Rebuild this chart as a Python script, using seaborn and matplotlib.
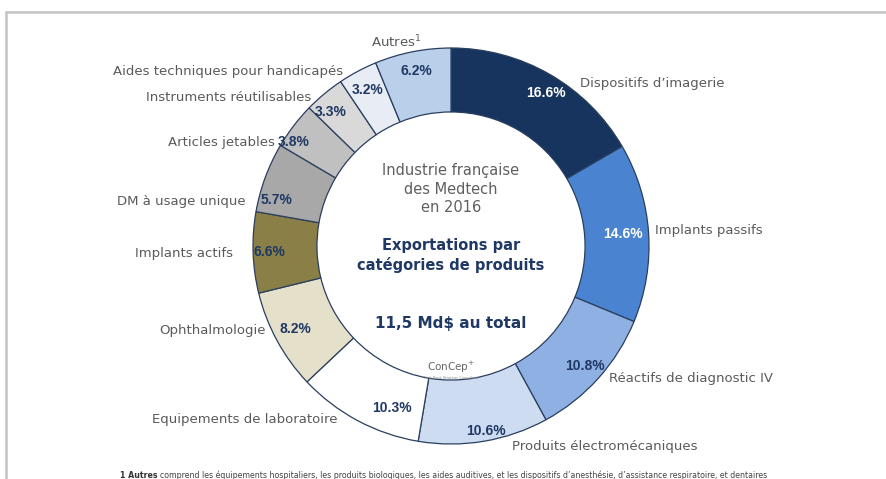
import numpy as np
import matplotlib
matplotlib.use("Agg")
import matplotlib.pyplot as plt
import seaborn as sns

categories = ["Dispositifs d\u2019imagerie", "Implants passifs", "Réactifs de diagnostic IV",
              "Produits électromécaniques", "Equipements de laboratoire", "Ophthalmologie",
              "Implants actifs", "DM à usage unique", "Articles jetables",
              "Instruments réutilisables", "Aides techniques pour handicapés", "Autres$^{1}$"]
values = [16.6, 14.6, 10.8, 10.6, 10.3, 8.2, 6.6, 5.7, 3.8, 3.3, 3.2, 6.2]
pct_labels = ["16.6%", "14.6%", "10.8%", "10.6%", "10.3%", "8.2%", "6.6%", "5.7%",
              "3.8%", "3.3%", "3.2%", "6.2%"]
colors = ["#17345f", "#4a84d0", "#8eb0e2", "#cddcf1", "#ffffff", "#e4e0c9",
          "#8a7f46", "#a8a8a8", "#c0c0c0", "#d9d9d9", "#e8edf5", "#bacfe9"]
pct_colors = ["white", "white"] + ["#1f3864"] * 10

# layout parameters (label placement)
pct_r = [0.91, 0.87, 0.91, 0.95, 0.87, 0.89, 0.915, 0.91, 0.95, 0.91, 0.895, 0.90]
pct_shift = [1.7, 0, 0, -1.3, -8.2, 0.3, 0, -5.5, -4, -2.2, 0, 0]
lab_r = [1.05, 1.035, 1.04, 1.06, 1.045, 1.03, 1.10, 1.06, 1.03, 1.03, 1.035, 1.065]
lab_shift = [8.5, -0.5, -1.9, -7.3, 5.1, 4.1, -0.2, -8, -7, -3.3, -3.6, -3.8]
lab_ha = ["left"] * 4 + ["right"] * 7 + ["center"]

sns.set_theme(style="white")
plt.rcParams["font.family"] = ["DejaVu Sans"]

W, H = 886, 479
fig = plt.figure(figsize=(W / 100, H / 100), dpi=100)
fig.patch.set_facecolor("white")

cx, cy, R = 451, 246, 198
ax = fig.add_axes([(cx - R) / W, (H - cy - R) / H, 2 * R / W, 2 * R / H])

wedges, _ = ax.pie(values, colors=colors, startangle=90, counterclock=False, radius=1,
                   wedgeprops=dict(width=0.323, edgecolor="#2a3f5e", linewidth=0.9))
ax.set_xlim(-1, 1)
ax.set_ylim(-1, 1)
ax.axis("off")

total = sum(values)
cum = np.cumsum([0] + values[:-1])
for i, v in enumerate(values):
    mid = (cum[i] + v / 2) / total * 360
    a = np.deg2rad(mid + pct_shift[i])
    ax.text(pct_r[i] * np.sin(a), pct_r[i] * np.cos(a), pct_labels[i], ha="center", va="center",
            fontsize=10, fontweight="bold", color=pct_colors[i], family="Liberation Sans")
    b = np.deg2rad(mid + lab_shift[i])
    ax.text(lab_r[i] * np.sin(b), lab_r[i] * np.cos(b), categories[i], ha=lab_ha[i], va="center",
            fontsize=9.5, color="#5a5a5a")

# center texts
ax.text(0.0, 0.287, "Industrie française\ndes Medtech\nen 2016", ha="center", va="center",
        fontsize=10.5, color="#5f5f5f", linespacing=1.3)
ax.text(0.0, -0.05, "Exportations par\ncatégories de produits", ha="center", va="center",
        fontsize=10.5, fontweight="bold", color="#1f3864", linespacing=1.3)
ax.text(0.0, -0.39, "11,5 Md$ au total", ha="center", va="center",
        fontsize=11, fontweight="bold", color="#1f3864")
ax.text(0.0, -0.615, "ConCep$^{+}$", ha="center", va="center", fontsize=7.5, color="#666666")
ax.text(0.0, -0.665, "First Rank Strategy Consultant", ha="center", va="center", fontsize=2.5,
        color="#888888")

# frame lines
fig.add_artist(plt.Line2D([6 / W, 6 / W], [0, 1 - 12 / H], color="#c4c4c4", lw=1.8,
                          transform=fig.transFigure))
fig.add_artist(plt.Line2D([6 / W, 1], [1 - 12 / H, 1 - 12 / H], color="#c4c4c4", lw=1.8,
                          transform=fig.transFigure))

# footnote
t1 = fig.text(120 / W, 1 - 475 / H, "1 Autres", fontsize=5.7, fontweight="bold",
              color="#333333", va="center", ha="left")
fig.canvas.draw()
bb = t1.get_window_extent()
fig.text((bb.x1 + 3) / W, 1 - 475 / H,
         "comprend les équipements hospitaliers, les produits biologiques, les aides auditives, "
         "et les dispositifs d\u2019anesthésie, d\u2019assistance respiratoire, et dentaires",
         fontsize=5.7, color="#444444", va="center", ha="left")

fig.savefig("out.png", dpi=100, facecolor="white")
